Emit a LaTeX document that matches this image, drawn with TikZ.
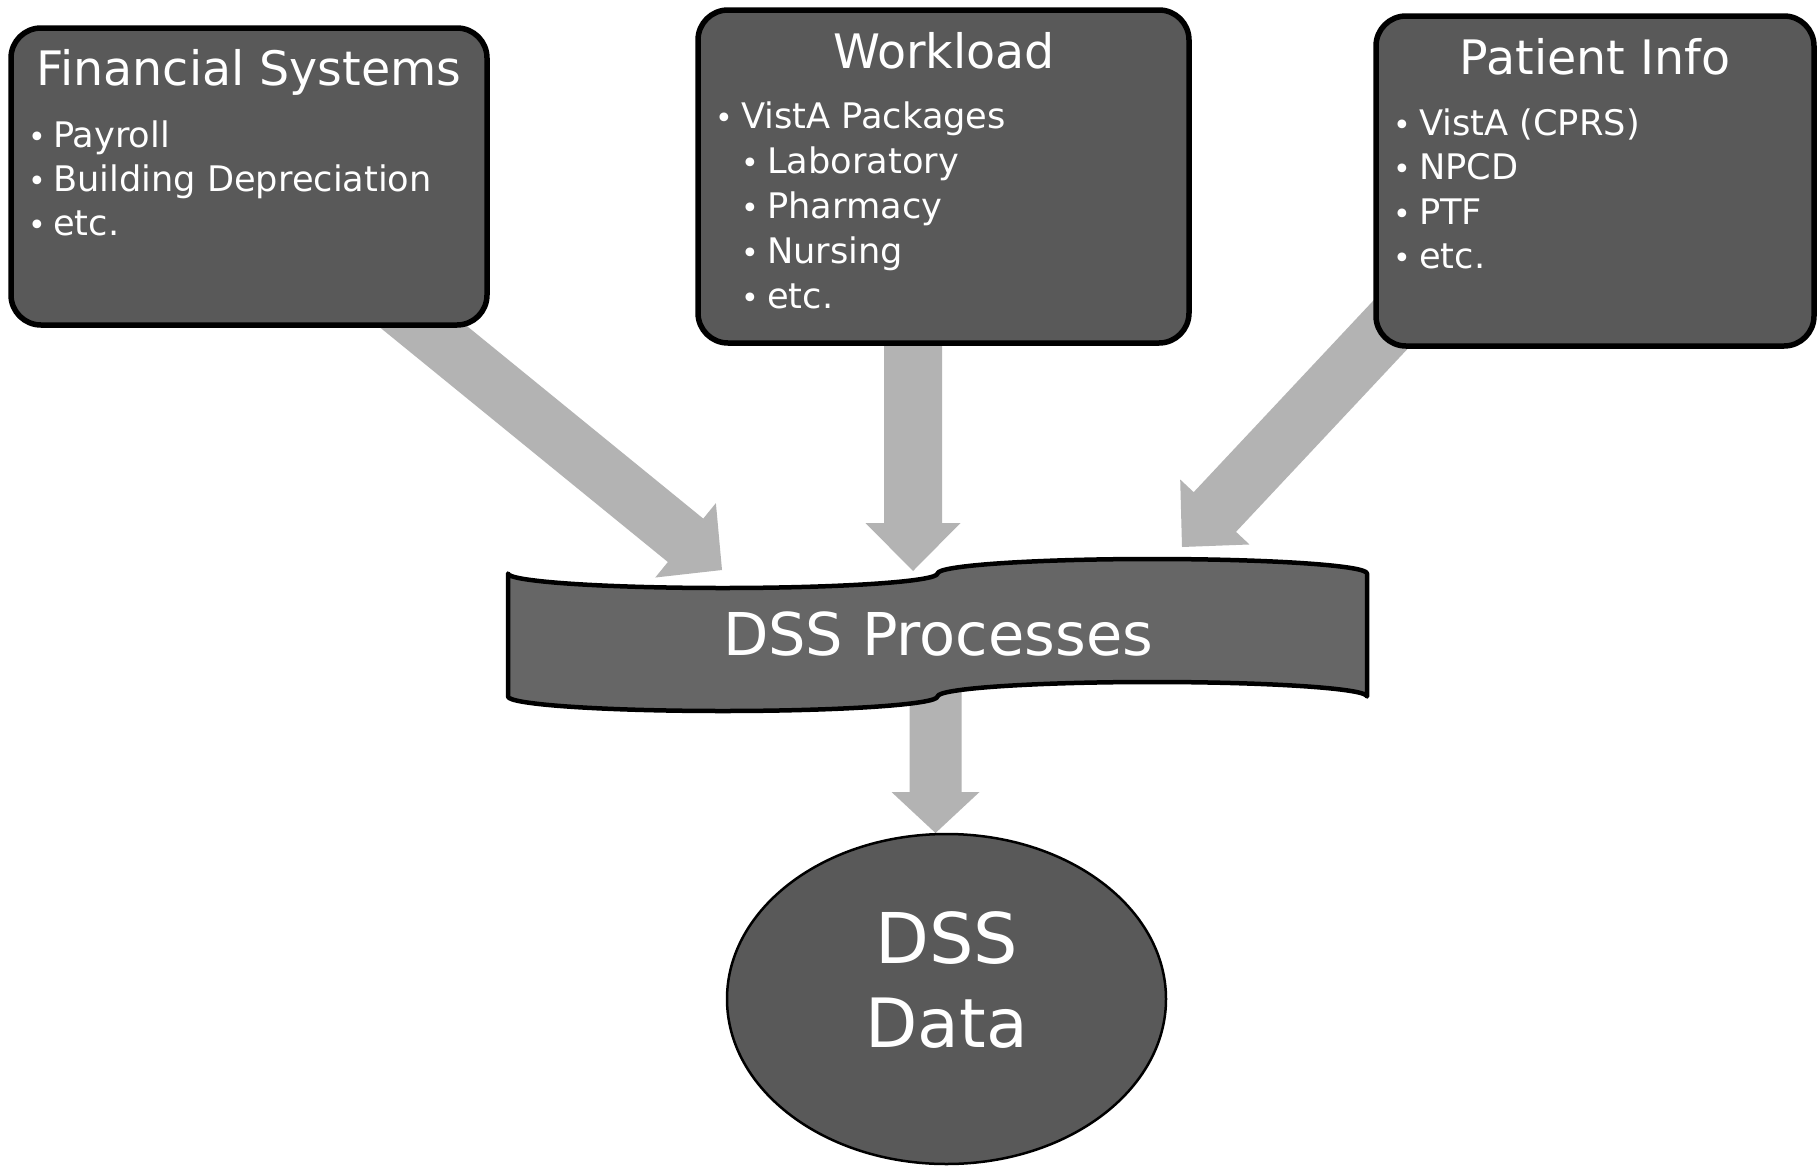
\documentclass[tikz,border=0pt]{standalone}
\usepackage{fontspec}
\setmainfont{DejaVu Sans}
\usetikzlibrary{calc,shapes.geometric}
\definecolor{boxfill}{HTML}{595959}
\definecolor{tapefill}{HTML}{666666}
\definecolor{arrowgray}{HTML}{B3B3B3}
\tikzset{
  srcbox/.style={draw=black, line width=5.5pt, fill=boxfill, rounded corners=30pt},
  titletext/.style={text=white, font=\fontsize{47.5}{50}\selectfont, anchor=base, inner sep=0pt},
  itemtext/.style={text=white, font=\fontsize{35.2}{40}\selectfont, anchor=base west, inner sep=0pt},
  bultext/.style={text=white, font=\fontsize{30}{34}\selectfont, anchor=base, inner sep=0pt},
  bigtext/.style={text=white, anchor=base, inner sep=0pt},
}
\newcommand{\blockarrow}[5]{%
  \coordinate (ba-h) at ($(#2)!#5!(#1)$);
  \fill[arrowgray] ($(#1)!#3!90:(#2)$) -- ($(ba-h)!#3!90:(#2)$) -- ($(ba-h)!#4!90:(#2)$)
    -- (#2) -- ($(ba-h)!#4!-90:(#2)$) -- ($(ba-h)!#3!-90:(#2)$) -- ($(#1)!#3!-90:(#2)$) -- cycle;}
\begin{document}
\begin{tikzpicture}[x=1pt,y=-1pt]
\fill[white] (0,0) rectangle (1818,1165);
\useasboundingbox (0,0) rectangle (1818,1165);

% arrow end points
\coordinate (finout) at (398,306);
\coordinate (finin) at (722,570);
\coordinate (wlout) at (913,300);
\coordinate (wlin) at (913,571);
\coordinate (ptout) at (1408,306);
\coordinate (ptin) at (1182,547);
\coordinate (procout) at (935.5,650);
\coordinate (datain) at (935.5,833);

% block arrows (behind the shapes)
\blockarrow{finout}{finin}{28pt}{48pt}{47pt}
\blockarrow{wlout}{wlin}{29pt}{47.5pt}{48pt}
\blockarrow{ptout}{ptin}{29pt}{47.5pt}{48pt}
\blockarrow{procout}{datain}{26pt}{44pt}{41pt}

% source boxes
\node[srcbox, minimum width=476pt, minimum height=297pt, inner sep=0pt] (fin) at (249,176.5) {};
\node[srcbox, minimum width=491pt, minimum height=333pt, inner sep=0pt] (wl) at (943.5,176.5) {};
\node[srcbox, minimum width=438pt, minimum height=330pt, inner sep=0pt] (pt) at (1595,181) {};

% Financial Systems
\node[titletext] (fint) at (249,85) {Financial Systems};
\node[bultext] (finb1) at (37,147) {•};
\node[itemtext] (fini1) at (53,147) {Payroll};
\node[bultext] (finb2) at (37,191.5) {•};
\node[itemtext] (fini2) at (53,191.5) {Building Depreciation};
\node[bultext] (finb3) at (37,235) {•};
\node[itemtext] (fini3) at (53,235) {etc.};

% Workload
\node[titletext] (wlt) at (944,68.5) {Workload};
\node[bultext] (wlb1) at (724,128.5) {•};
\node[itemtext] (wli1) at (741,128.5) {VistA Packages};
\node[bultext] (wlb2) at (750,173.5) {•};
\node[itemtext] (wli2) at (767,173.5) {Laboratory};
\node[bultext] (wlb3) at (750,218.5) {•};
\node[itemtext] (wli3) at (767,218.5) {Pharmacy};
\node[bultext] (wlb4) at (750,263.5) {•};
\node[itemtext] (wli4) at (767,263.5) {Nursing};
\node[bultext] (wlb5) at (750,308.5) {•};
\node[itemtext] (wli5) at (767,308.5) {etc.};

% Patient Info
\node[titletext] (ptt) at (1595,74) {Patient Info};
\node[bultext] (ptb1) at (1402,135) {•};
\node[itemtext] (pti1) at (1419,135) {VistA (CPRS)};
\node[bultext] (ptb2) at (1402,179.5) {•};
\node[itemtext] (pti2) at (1419,179.5) {NPCD};
\node[bultext] (ptb3) at (1402,224) {•};
\node[itemtext] (pti3) at (1419,224) {PTF};
\node[bultext] (ptb4) at (1402,268.5) {•};
\node[itemtext] (pti4) at (1419,268.5) {etc.};

% DSS Processes (punched tape)
\draw[line width=4.5pt, fill=tapefill, line join=round]
  (508,573.5) .. controls (508,581.5) and (604.15,588) .. (722.75,588)
  .. controls (841.35,588) and (937.5,581.5) .. (937.5,573.5)
  .. controls (937.5,565.5) and (1033.65,559) .. (1152.25,559)
  .. controls (1270.85,559) and (1367,565.5) .. (1367,573.5)
  -- (1367,696.5)
  .. controls (1367,688.5) and (1270.85,682) .. (1152.25,682)
  .. controls (1033.65,682) and (937.5,688.5) .. (937.5,696.5)
  .. controls (937.5,704.5) and (841.35,711) .. (722.75,711)
  .. controls (604.15,711) and (508,704.5) .. (508,696.5) -- cycle;
\node[bigtext, font=\fontsize{59}{62}\selectfont] (proc) at (938,655) {DSS Processes};

% DSS Data
\node[draw=black, line width=2.5pt, fill=boxfill, ellipse, minimum width=439pt, minimum height=330pt, inner sep=0pt] (data) at (946.5,999) {};
\node[bigtext, font=\fontsize{70}{74}\selectfont] (datat1) at (946.5,963) {DSS};
\node[bigtext, font=\fontsize{68}{72}\selectfont] (datat2) at (946.5,1047) {Data};
\end{tikzpicture}
\end{document}
